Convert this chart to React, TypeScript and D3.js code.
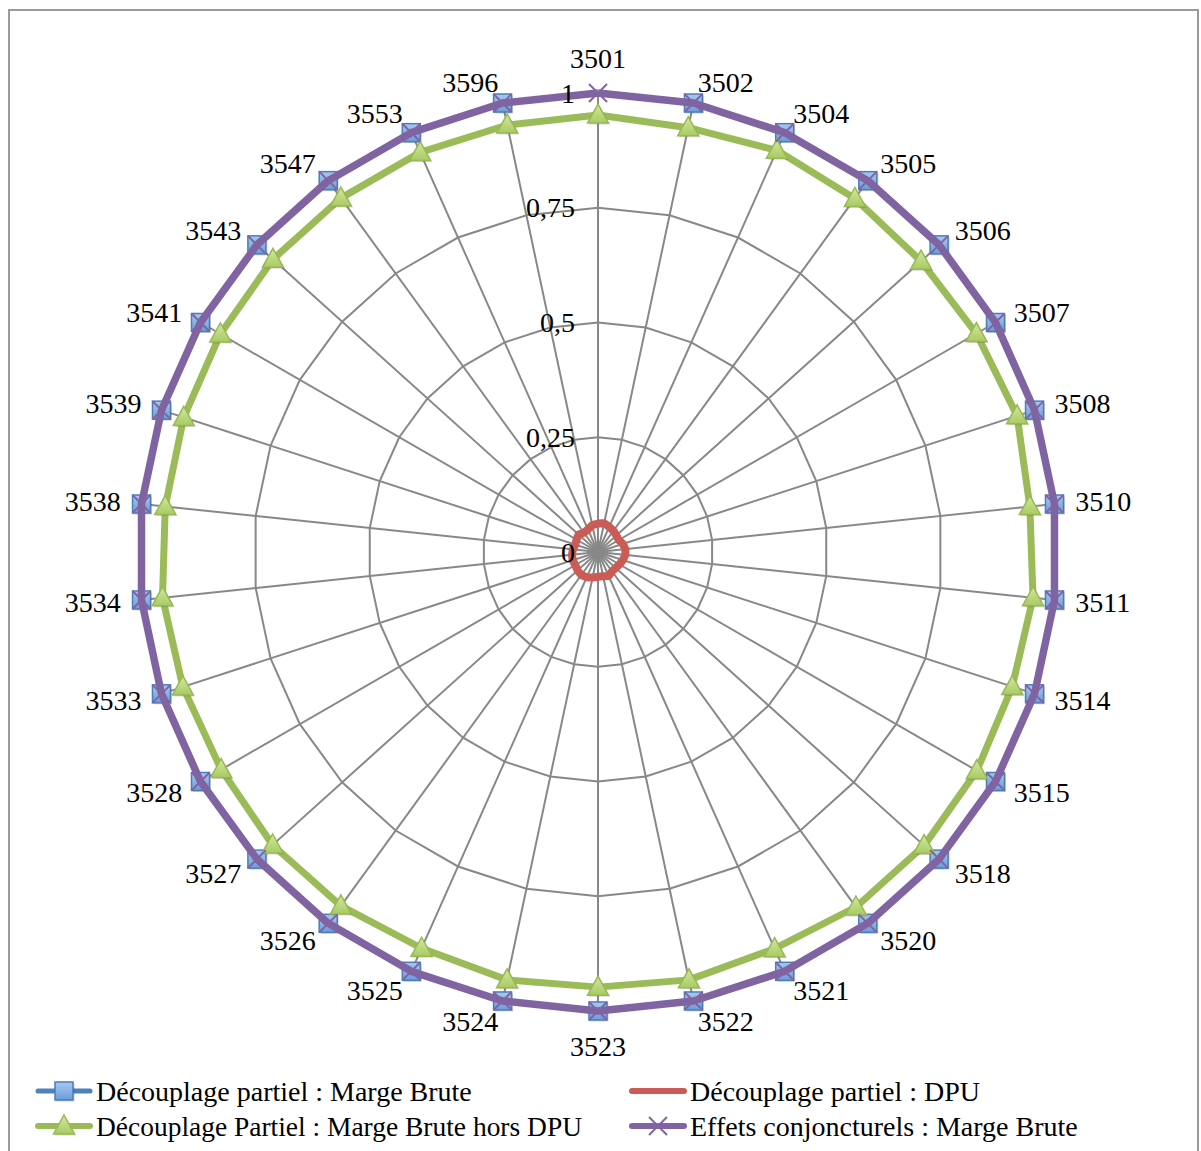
import React from "react";
import * as d3 from "d3";

const categories = ["3501","3502","3504","3505","3506","3507","3508","3510","3511","3514","3515","3518","3520","3521","3522","3523","3524","3525","3526","3527","3528","3533","3534","3538","3539","3541","3543","3547","3553","3596"];

const margeBrute: (number | null)[] = [null,1,1,1,1,1,1,1,1,1,1,1,1,1,1,1,1,1,1,1,1,1,1,1,1,1,1,1,1,1];
const dpu = [0.062,0.064,0.06,0.057,0.054,0.052,0.057,0.06,0.06,0.057,0.054,0.052,0.052,0.057,0.054,0.054,0.057,0.06,0.062,0.06,0.057,0.058,0.057,0.055,0.052,0.054,0.057,0.052,0.054,0.06];
const horsDpu = [0.952,0.945,0.958,0.952,0.947,0.952,0.96,0.946,0.953,0.949,0.953,0.956,0.956,0.946,0.953,0.948,0.953,0.945,0.953,0.954,0.948,0.951,0.954,0.948,0.949,0.95,0.953,0.953,0.953,0.951];
const conjoncturels = [1,1,1,1,1,1,1,1,1,1,1,1,1,1,1,1,1,1,1,1,1,1,1,1,1,1,1,1,1,1];

const ticks = [0, 0.25, 0.5, 0.75, 1];
const tickLabels = ["0", "0,25", "0,5", "0,75", "1"];

const legendLabels = [
  "Découplage partiel : Marge Brute",
  "Découplage partiel : DPU",
  "Découplage Partiel : Marge Brute hors DPU",
  "Effets conjoncturels : Marge Brute",
];

const W = 1201, H = 1151;
const cx = 598, cy = 552;
const FONT = "'Liberation Serif', 'Times New Roman', serif";

const BLUE = "#4F81BD", RED = "#CB5B56", GREEN = "#9BBB59", PURPLE = "#8064A2";

function Square({ x, y }: { x: number; y: number }) {
  const s = 18;
  return (
    <g>
      <rect x={x - s / 2 + 1.5} y={y - s / 2 + 1.5} width={s} height={s} fill="rgba(0,0,0,0.18)" />
      <rect x={x - s / 2} y={y - s / 2} width={s} height={s} fill="url(#gBlue)" stroke="#4A7EBB" strokeWidth={1.5} />
    </g>
  );
}
function Tri({ x, y }: { x: number; y: number }) {
  const w = 21, h = 18;
  const pts = `${x},${y - h / 2 - 2} ${x + w / 2},${y + h / 2 - 1} ${x - w / 2},${y + h / 2 - 1}`;
  return (
    <g>
      <polygon points={pts} transform="translate(1.5,1.5)" fill="rgba(0,0,0,0.15)" />
      <polygon points={pts} fill="url(#gGreen)" stroke="#98B954" strokeWidth={1.5} />
    </g>
  );
}
function Cross({ x, y }: { x: number; y: number }) {
  const s = 9;
  return (
    <g stroke={PURPLE} strokeWidth={2}>
      <line x1={x - s} y1={y - s} x2={x + s} y2={y + s} />
      <line x1={x - s} y1={y + s} x2={x + s} y2={y - s} />
    </g>
  );
}

export default function App() {
  const n = categories.length;
  const r = d3.scaleLinear().domain([0, 1]).range([0, 459]);
  const ang = (i: number) => (i * 2 * Math.PI) / n;
  const pt = (i: number, v: number): [number, number] => [cx + r(v) * Math.sin(ang(i)), cy - r(v) * Math.cos(ang(i))];

  // closed radial path that leaves gaps at missing values
  const radial = (vals: (number | null)[]) => {
    const wrapped = vals.map((v, i) => ({ v, i })).concat([{ v: vals[0], i: n }]);
    return (
      d3.lineRadial<{ v: number | null; i: number }>()
        .angle((d) => ang(d.i))
        .radius((d) => r(d.v as number))
        .defined((d) => d.v !== null)
        .curve(d3.curveLinear)(wrapped) || ""
    );
  };

  const ringPath = (v: number) => radial(categories.map(() => v));

  const labelR = 480;

  return (
    <div style={{ position: "absolute", left: 0, top: 0 }}>
      <svg width={W} height={H} style={{ display: "block" }}>
        <defs>
          <linearGradient id="gBlue" x1="0" y1="0" x2="0" y2="1">
            <stop offset="0" stopColor="#A9C8F0" />
            <stop offset="1" stopColor="#6B9CDB" />
          </linearGradient>
          <linearGradient id="gGreen" x1="0" y1="0" x2="0" y2="1">
            <stop offset="0" stopColor="#D3E8A0" />
            <stop offset="1" stopColor="#A9CA63" />
          </linearGradient>
        </defs>
        <rect x={0} y={0} width={W} height={H} fill="#fff" />
        <rect x={9} y={10} width={1189} height={1160} fill="none" stroke="#9A9A9A" strokeWidth={2} />

        {/* grid */}
        <g stroke="#888888" strokeWidth={2} fill="none">
          {ticks.slice(1).map((t) => (
            <path key={t} d={ringPath(t)} transform={`translate(${cx},${cy})`} />
          ))}
          {categories.map((c, i) => {
            const [x, y] = pt(i, 1);
            return <line key={c} x1={cx} y1={cy} x2={x} y2={y} />;
          })}
        </g>

        {/* series */}
        <g transform={`translate(${cx},${cy})`} fill="none" strokeLinejoin="round">
          <path d={radial(margeBrute)} stroke={BLUE} strokeWidth={4} />
        </g>
        {margeBrute.map((v, i) => {
          if (v === null) return null;
          const [x, y] = pt(i, v);
          return <Square key={i} x={x} y={y} />;
        })}
        <g transform={`translate(${cx},${cy})`} fill="none" strokeLinejoin="round">
          <path d={radial(dpu)} stroke={RED} strokeWidth={8} />
          <path d={radial(horsDpu)} stroke={GREEN} strokeWidth={7} />
        </g>
        {horsDpu.map((v, i) => {
          const [x, y] = pt(i, v);
          return <Tri key={i} x={x} y={y} />;
        })}
        <g transform={`translate(${cx},${cy})`} fill="none" strokeLinejoin="round">
          <path d={radial(conjoncturels)} stroke={PURPLE} strokeWidth={7.5} />
        </g>
        {conjoncturels.map((v, i) => {
          const [x, y] = pt(i, v);
          return <Cross key={i} x={x} y={y} />;
        })}

        {/* tick labels */}
        <g fontFamily={FONT} fontSize={28} fill="#000" textAnchor="end">
          {ticks.map((t, i) => (
            <text key={t} x={cx - 23} y={cy - r(t)} dominantBaseline="central">
              {tickLabels[i]}
            </text>
          ))}
        </g>

        {/* category labels */}
        <g fontFamily={FONT} fontSize={28} fill="#000">
          {categories.map((c, i) => {
            const s = Math.sin(ang(i)), co = Math.cos(ang(i));
            let x = cx + labelR * s;
            let y = cy - labelR * co;
            let anchor = "middle";
            if (Math.abs(s) < 0.05) {
              y += -co * 14;
            } else {
              anchor = s > 0 ? "start" : "end";
            }
            return (
              <text key={c} x={x} y={y} textAnchor={anchor} dominantBaseline="central">
                {c}
              </text>
            );
          })}
        </g>

        {/* legend */}
        <g fontFamily={FONT} fontSize={28} fill="#000">
          <line x1={38} x2={90} y1={1091} y2={1091} stroke={BLUE} strokeWidth={5} strokeLinecap="round" />
          <Square x={64} y={1091} />
          <text x={96} y={1091} dominantBaseline="central">{legendLabels[0]}</text>

          <line x1={632} x2={684} y1={1091} y2={1091} stroke={RED} strokeWidth={6} strokeLinecap="round" />
          <text x={690} y={1091} dominantBaseline="central">{legendLabels[1]}</text>

          <line x1={38} x2={90} y1={1126} y2={1126} stroke={GREEN} strokeWidth={6} strokeLinecap="round" />
          <Tri x={64} y={1126} />
          <text x={96} y={1126} dominantBaseline="central" textLength={486} lengthAdjust="spacingAndGlyphs">{legendLabels[2]}</text>

          <line x1={632} x2={684} y1={1126} y2={1126} stroke={PURPLE} strokeWidth={6} strokeLinecap="round" />
          <Cross x={658} y={1126} />
          <text x={690} y={1126} dominantBaseline="central">{legendLabels[3]}</text>
        </g>
      </svg>
    </div>
  );
}
